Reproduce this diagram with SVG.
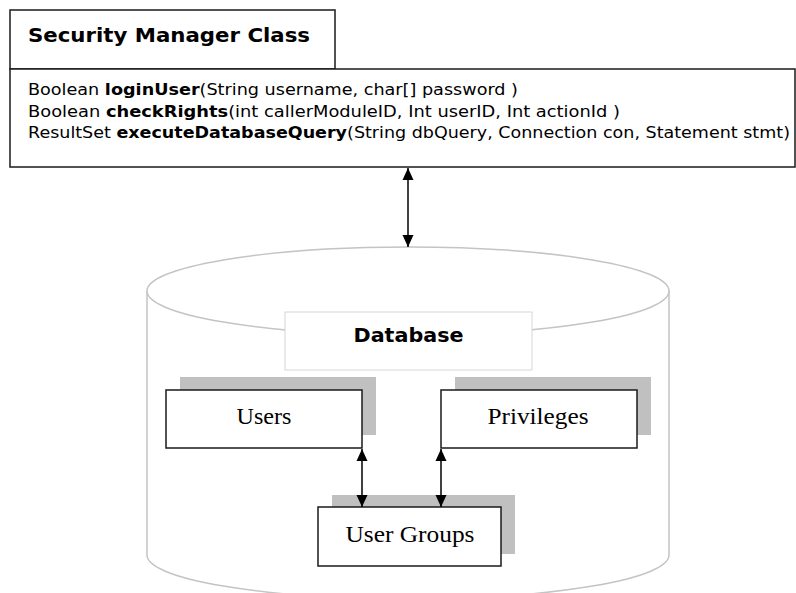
<svg xmlns="http://www.w3.org/2000/svg" width="796" height="593" viewBox="0 0 796 593">
<style>
.box{fill:#fff;stroke:#1a1a1a;stroke-width:1.5}
.shadow{fill:#c0c0c0;stroke:none}
.cyl{fill:#fff;stroke:#c4c4c4;stroke-width:1.5}
.dbl{fill:#fff;stroke:#d6d6d6;stroke-width:1}
.hdr{font-family:"DejaVu Sans","Verdana",sans-serif;font-weight:bold;font-size:19px;fill:#000}
.mth{font-family:"DejaVu Sans","Verdana",sans-serif;font-size:15px;fill:#000}
.mth tspan.b{font-weight:bold}
.ser{font-family:"Liberation Serif","Times New Roman",serif;font-size:24px;fill:#000;text-anchor:middle}
.conn{stroke:#000;stroke-width:1.5;fill:none;marker-start:url(#ah);marker-end:url(#ah)}
</style>
<defs>
<marker id="ah" markerUnits="userSpaceOnUse" viewBox="0 0 12 12" refX="12" refY="6" markerWidth="12" markerHeight="12" orient="auto-start-reverse">
<path d="M0,0.5 L12,6 L0,11.5 Z" fill="#000"/>
</marker>
</defs>
<rect width="796" height="593" fill="#fff"/>
<g id="security-manager">
<rect class="box" x="10" y="10" width="325" height="59"/>
<rect class="box" x="10" y="69" width="785" height="98"/>
<text class="hdr" x="28" y="42" textLength="282" lengthAdjust="spacingAndGlyphs">Security Manager Class</text>
<text class="mth" x="28" y="95" textLength="490" lengthAdjust="spacingAndGlyphs">Boolean <tspan class="b">loginUser</tspan>(String username, char[] password )</text>
<text class="mth" x="28" y="117" textLength="592" lengthAdjust="spacingAndGlyphs">Boolean <tspan class="b">checkRights</tspan>(int callerModuleID, Int userID, Int actionId )</text>
<text class="mth" x="28" y="138" textLength="762" lengthAdjust="spacingAndGlyphs">ResultSet <tspan class="b">executeDatabaseQuery</tspan>(String dbQuery, Connection con, Statement stmt)</text>
</g>
<g id="database">
<path class="cyl" d="M147,291 L147,555 A261,44 0 0 0 669,555 L669,291"/>
<ellipse class="cyl" cx="408" cy="291" rx="261" ry="44"/>
<rect class="dbl" x="285" y="312" width="247" height="58"/>
<text class="hdr" x="408.5" y="342" text-anchor="middle" textLength="110" lengthAdjust="spacingAndGlyphs">Database</text>
</g>
<g id="users">
<rect class="shadow" x="180" y="377" width="196" height="58"/>
<rect class="box" x="166" y="390" width="196" height="58"/>
<text class="ser" x="264" y="424" textLength="55" lengthAdjust="spacingAndGlyphs">Users</text>
</g>
<g id="privileges">
<rect class="shadow" x="455" y="377" width="196" height="58"/>
<rect class="box" x="441" y="390" width="196" height="58"/>
<text class="ser" x="538" y="424" textLength="101" lengthAdjust="spacingAndGlyphs">Privileges</text>
</g>
<g id="user-groups">
<rect class="shadow" x="332" y="495" width="183" height="59"/>
<rect class="box" x="318" y="507" width="183" height="59"/>
<text class="ser" x="410" y="542" textLength="129" lengthAdjust="spacingAndGlyphs">User Groups</text>
</g>
<g id="connectors">
<line class="conn" x1="408" y1="168" x2="408" y2="247"/>
<line class="conn" x1="362" y1="449" x2="362" y2="507"/>
<line class="conn" x1="441" y1="449" x2="441" y2="507"/>
</g>
</svg>
